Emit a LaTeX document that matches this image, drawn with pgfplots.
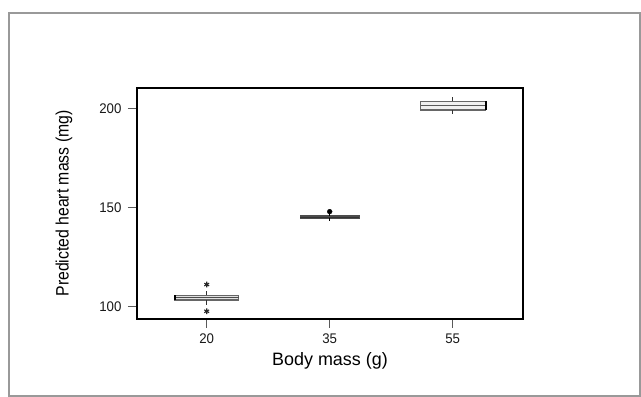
\documentclass[border=0pt]{standalone}
\usepackage{fontspec}
\setmainfont{Liberation Sans}
\usepackage{pgfplots}
\pgfplotsset{compat=1.18}
\begin{document}
\begin{tikzpicture}
\path[use as bounding box] (0bp,0bp) rectangle (641bp,397bp);
\draw[black!40, line width=1.2bp] (9bp,1bp) rectangle (640bp,384bp);
\begin{axis}[
  at={(137bp,78bp)}, anchor=south west,
  scale only axis, width=386bp, height=231bp,
  xmin=-0.567, xmax=2.572, ymin=93.6, ymax=210.2,
  xtick={0,1,2}, xticklabels={20,35,55},
  ytick={100,150,200},
  tick align=outside, tick pos=left,
  major tick length=9bp,
  every tick/.style={black!65, line width=0.9bp},
  axis line style={black, line width=1.1bp},
  /pgf/number format/assume math mode=true,
  ticklabel style={font=\addfontfeatures{FakeStretch=0.95}\fontsize{14}{14}\selectfont, text=black!90},
  yticklabel style={xshift=-3bp},
  xticklabel style={yshift=-2bp},
  xlabel={Body mass (g)},
  ylabel={Predicted heart mass (mg)},
  xlabel style={at={(axis description cs:0.5,-0.182)}, anchor=center, font=\fontsize{18}{18}\selectfont},
  ylabel style={at={(axis description cs:-0.189,0.5)}, anchor=center, font=\addfontfeatures{FakeStretch=0.88}\fontsize{18}{18}\selectfont},
  clip=false,
]
% 20 g box
\addplot[draw=black!60, fill=black!12, line width=1.4bp] coordinates {(-0.26,103.1) (0.26,103.1) (0.26,105.6) (-0.26,105.6)} -- cycle;
\addplot[black!70, line width=1.2bp] coordinates {(-0.26,104.3) (0.26,104.3)};
\addplot[black!80, line width=1.1bp] coordinates {(0,100.9) (0,103.1)};
\addplot[black!80, line width=1.1bp] coordinates {(0,105.6) (0,107.6)};
\addplot[black, line width=1.6bp] coordinates {(-0.26,103.1) (-0.26,105.6)};
% 35 g box
\addplot[draw=black!70, fill=black!12, line width=1.2bp] coordinates {(0.76,144.5) (1.24,144.5) (1.24,145.6) (0.76,145.6)} -- cycle;
\addplot[black!80, line width=1.2bp] coordinates {(0.76,145.0) (1.24,145.0)};
\addplot[black, line width=1.2bp] coordinates {(1,143.3) (1,144.5)};
\addplot[black, line width=1.2bp] coordinates {(1,145.6) (1,146.6)};
% 55 g box
\addplot[draw=black!60, fill=black!6, line width=1.2bp] coordinates {(1.74,199.1) (2.27,199.1) (2.27,203.4) (1.74,203.4)} -- cycle;
\addplot[black!65, line width=1.2bp] coordinates {(1.74,201.4) (2.27,201.4)};
\addplot[black, line width=1.8bp] coordinates {(2.27,199.1) (2.27,203.4)};
\addplot[black!80, line width=1.1bp] coordinates {(2,197.1) (2,199.1)};
\addplot[black!80, line width=1.1bp] coordinates {(2,203.4) (2,205.9)};
% outliers
\addplot[only marks, mark=asterisk, mark size=2.8bp, black!85, line width=1.1bp]
  coordinates {(0,111) (0,97.5)};
\addplot[only marks, mark=*, mark size=2.4bp, black]
  coordinates {(1,147.8)};
\end{axis}
\end{tikzpicture}
\end{document}
